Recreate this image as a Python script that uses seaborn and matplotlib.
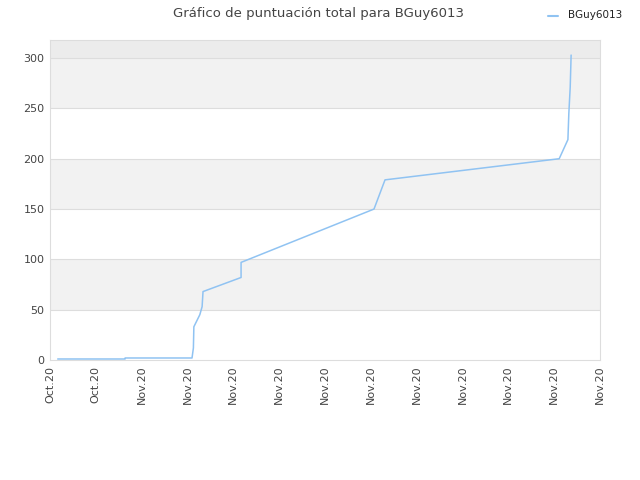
import matplotlib
matplotlib.use("Agg")
import matplotlib.pyplot as plt
import seaborn as sns
import pandas as pd

# x in tick units (0 = first tick), y = total score
days = [0.17, 1.64, 1.64, 3.10, 3.13, 3.14, 3.27, 3.32, 3.34, 4.17, 4.17,
        7.07, 7.31, 11.11, 11.30, 11.32, 11.35, 11.37]
score = [1, 1, 2, 2, 12, 33, 45, 53, 68, 82, 97,
         150, 179, 200, 219, 245, 271, 303]
tick_labels = ["Oct.20", "Oct.20"] + ["Nov.20"] * 11
player = "BGuy6013"

df = pd.DataFrame({"x": days, "y": score, "player": player})

sns.set_style("white")
fig = plt.figure(figsize=(6.4, 4.8), dpi=100)
ax = fig.add_axes([0.078, 0.25, 0.8595, 0.6667])

# alternating bands
band_colors = ["#ffffff", "#f2f2f2", "#ffffff", "#f2f2f2", "#ffffff", "#f2f2f2", "#ececec"]
for i, c in enumerate(band_colors):
    ax.axhspan(i * 50, (i + 1) * 50, color=c, zorder=0, lw=0)
for v in range(50, 301, 50):
    ax.axhline(v, color="#dddddd", lw=0.8, zorder=1)

sns.lineplot(data=df, x="x", y="y", ax=ax, color="#90c3f2", lw=1.1,
             estimator=None, sort=False, legend=False, zorder=3)

ax.set_xlim(0, len(tick_labels) - 1)
ax.set_ylim(0, 318)
ax.set_xticks(range(len(tick_labels)))
ax.set_xticklabels(tick_labels, rotation=90)
ax.set_yticks(range(0, 301, 50))
ax.tick_params(axis="both", labelsize=8, labelcolor="#444444", length=0, pad=4)
ax.set_xlabel("")
ax.set_ylabel("")
for s in ax.spines.values():
    s.set_color("#dddddd")
    s.set_linewidth(0.8)

fig.text(0.497, 0.972, "Gráfico de puntuación total para BGuy6013",
         ha="center", va="center", fontsize=9.5, color="#444444")
fig.lines.append(plt.Line2D([0.857, 0.872], [0.966, 0.966], transform=fig.transFigure,
                            color="#90c3f2", lw=1.5))
fig.text(0.888, 0.968, player, ha="left", va="center", fontsize=7.5, color="#222222")

fig.savefig("out.png", dpi=100)
